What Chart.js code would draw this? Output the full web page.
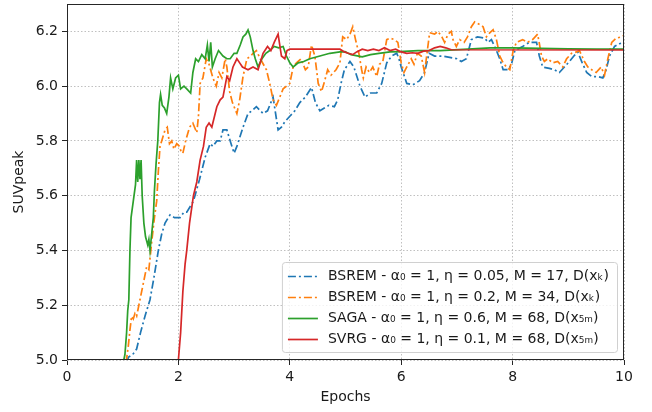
<!DOCTYPE html>
<html>
<head>
<meta charset="utf-8">
<script src="https://cdn.jsdelivr.net/npm/chart.js@4.4.0/dist/chart.umd.min.js"></script>
<style>
  body { margin: 0; background: #fff; }
  #wrap { width: 652px; height: 412px; }
</style>
</head>
<body>
<div id="wrap"><canvas id="suvChart" width="652" height="412"></canvas></div>
<script>
// SUVpeak against epochs for each reconstruction run
var seriesLabels = [
    "BSREM - α₀ = 1, η = 0.05, M = 17, D(xₖ)",
    "BSREM - α₀ = 1, η = 0.2, M = 34, D(xₖ)",
    "SAGA - α₀ = 1, η = 0.6, M = 68, D(x₅ₘ)",
    "SVRG - α₀ = 1, η = 0.1, M = 68, D(x₅ₘ)"
];

var xTicks = [0, 2, 4, 6, 8, 10];
var yTicks = [5.0, 5.2, 5.4, 5.6, 5.8, 6.0, 6.2];

var bsrem17Epochs = [1.08, 1.10, 1.18, 1.25, 1.32, 1.40, 1.49, 1.56, 1.64, 1.70, 1.76, 1.85, 1.93, 2.03, 2.10, 2.15, 2.27, 2.38, 2.48, 2.57, 2.62, 2.69, 2.75, 2.80, 2.87, 2.93, 3.00, 3.05, 3.16, 3.25, 3.32, 3.40, 3.52, 3.60, 3.70, 3.79, 3.85, 3.91, 4.00, 4.09, 4.18, 4.28, 4.39, 4.46, 4.54, 4.62, 4.70, 4.80, 4.86, 4.92, 4.98, 5.08, 5.15, 5.26, 5.35, 5.45, 5.56, 5.65, 5.74, 5.83, 5.92, 5.96, 6.00, 6.10, 6.21, 6.33, 6.42, 6.50, 6.60, 6.74, 6.87, 7.00, 7.08, 7.17, 7.26, 7.37, 7.50, 7.56, 7.62, 7.71, 7.77, 7.83, 7.92, 7.98, 8.04, 8.18, 8.30, 8.43, 8.48, 8.54, 8.66, 8.75, 8.84, 8.93, 9.02, 9.10, 9.17, 9.25, 9.33, 9.42, 9.53, 9.62, 9.68, 9.74, 9.83, 9.92, 10.0];
var bsrem17Suv = [4.99, 5.01, 5.02, 5.04, 5.10, 5.16, 5.22, 5.30, 5.40, 5.46, 5.50, 5.53, 5.52, 5.52, 5.54, 5.54, 5.58, 5.66, 5.74, 5.79, 5.78, 5.80, 5.80, 5.84, 5.84, 5.80, 5.755, 5.78, 5.85, 5.90, 5.91, 5.925, 5.90, 5.91, 5.96, 5.84, 5.85, 5.87, 5.89, 5.91, 5.94, 5.96, 5.995, 5.94, 5.91, 5.92, 5.93, 5.925, 5.95, 6.01, 6.06, 6.09, 6.07, 6.00, 5.96, 5.975, 5.975, 6.01, 6.085, 6.11, 6.12, 6.10, 6.07, 6.01, 6.005, 6.02, 6.05, 6.12, 6.11, 6.11, 6.105, 6.10, 6.09, 6.10, 6.17, 6.18, 6.175, 6.16, 6.17, 6.13, 6.10, 6.06, 6.06, 6.08, 6.13, 6.145, 6.16, 6.16, 6.11, 6.07, 6.065, 6.06, 6.05, 6.07, 6.09, 6.11, 6.125, 6.085, 6.05, 6.035, 6.035, 6.03, 6.06, 6.11, 6.145, 6.155, 6.16];

var bsrem34Epochs = [1.06, 1.10, 1.13, 1.16, 1.19, 1.22, 1.25, 1.31, 1.36, 1.43, 1.47, 1.52, 1.57, 1.61, 1.64, 1.67, 1.70, 1.73, 1.76, 1.80, 1.84, 1.88, 1.92, 1.97, 2.02, 2.05, 2.08, 2.13, 2.20, 2.26, 2.33, 2.36, 2.39, 2.44, 2.50, 2.55, 2.62, 2.68, 2.73, 2.78, 2.84, 2.87, 2.92, 2.97, 3.05, 3.10, 3.16, 3.23, 3.30, 3.34, 3.40, 3.47, 3.58, 3.64, 3.70, 3.76, 3.82, 3.88, 4.00, 4.06, 4.12, 4.20, 4.28, 4.33, 4.39, 4.45, 4.51, 4.57, 4.62, 4.68, 4.74, 4.83, 4.90, 4.95, 5.02, 5.08, 5.13, 5.18, 5.24, 5.29, 5.32, 5.37, 5.43, 5.49, 5.56, 5.61, 5.67, 5.74, 5.80, 5.88, 5.94, 6.00, 6.05, 6.10, 6.18, 6.23, 6.29, 6.36, 6.42, 6.51, 6.60, 6.66, 6.73, 6.78, 6.84, 6.90, 6.93, 6.99, 7.05, 7.13, 7.19, 7.26, 7.32, 7.41, 7.47, 7.53, 7.59, 7.65, 7.71, 7.77, 7.83, 7.89, 7.95, 8.01, 8.07, 8.18, 8.27, 8.36, 8.45, 8.52, 8.57, 8.63, 8.72, 8.81, 8.90, 8.97, 9.06, 9.15, 9.20, 9.29, 9.35, 9.42, 9.50, 9.59, 9.65, 9.71, 9.78, 9.86, 9.95, 10.0];
var bsrem34Suv = [4.99, 5.05, 5.11, 5.16, 5.15, 5.17, 5.16, 5.22, 5.27, 5.34, 5.33, 5.43, 5.52, 5.58, 5.69, 5.78, 5.80, 5.82, 5.84, 5.85, 5.79, 5.80, 5.77, 5.79, 5.78, 5.76, 5.755, 5.80, 5.85, 5.865, 5.83, 5.89, 6.01, 6.03, 6.10, 6.08, 6.03, 6.00, 6.05, 6.03, 6.10, 6.07, 5.98, 5.94, 5.90, 5.95, 6.035, 6.10, 6.11, 6.12, 6.13, 6.10, 6.06, 6.01, 5.95, 5.93, 5.96, 5.99, 6.01, 6.07, 6.085, 6.10, 6.06, 6.07, 6.15, 6.11, 6.01, 5.98, 6.015, 6.06, 6.04, 6.06, 6.085, 6.18, 6.17, 6.19, 6.217, 6.17, 6.12, 6.06, 6.03, 6.07, 6.05, 6.07, 6.035, 6.08, 6.09, 6.17, 6.175, 6.17, 6.16, 6.085, 6.05, 6.07, 6.10, 6.08, 6.12, 6.11, 6.05, 6.195, 6.19, 6.20, 6.18, 6.16, 6.19, 6.20, 6.17, 6.145, 6.17, 6.16, 6.18, 6.217, 6.235, 6.225, 6.217, 6.18, 6.195, 6.206, 6.17, 6.11, 6.085, 6.07, 6.06, 6.13, 6.16, 6.17, 6.16, 6.17, 6.19, 6.11, 6.09, 6.10, 6.085, 6.09, 6.07, 6.10, 6.12, 6.125, 6.13, 6.09, 6.07, 6.06, 6.05, 6.07, 6.04, 6.10, 6.16, 6.175, 6.18, 6.185];

var sagaEpochs = [1.02, 1.04, 1.07, 1.09, 1.11, 1.13, 1.15, 1.19, 1.23, 1.25, 1.27, 1.29, 1.31, 1.33, 1.35, 1.38, 1.41, 1.45, 1.47, 1.49, 1.52, 1.55, 1.57, 1.60, 1.63, 1.66, 1.68, 1.71, 1.75, 1.79, 1.83, 1.86, 1.90, 1.95, 2.00, 2.04, 2.10, 2.15, 2.22, 2.26, 2.31, 2.36, 2.42, 2.48, 2.52, 2.55, 2.58, 2.61, 2.66, 2.72, 2.80, 2.87, 2.93, 3.00, 3.05, 3.11, 3.16, 3.21, 3.25, 3.29, 3.34, 3.38, 3.43, 3.50, 3.57, 3.64, 3.72, 3.80, 3.88, 3.94, 4.00, 4.06, 4.15, 4.25, 4.36, 4.54, 4.72, 4.90, 4.99, 5.10, 5.30, 5.45, 5.60, 5.80, 5.97, 6.30, 6.70, 7.20, 7.60, 8.00, 8.50, 9.00, 9.50, 10.0];
var sagaSuv = [5.00, 5.02, 5.10, 5.18, 5.22, 5.40, 5.52, 5.58, 5.64, 5.73, 5.65, 5.73, 5.66, 5.73, 5.60, 5.50, 5.45, 5.42, 5.44, 5.40, 5.46, 5.52, 5.62, 5.72, 5.80, 5.94, 5.97, 5.93, 5.92, 5.90, 5.96, 6.03, 5.99, 6.03, 6.04, 5.99, 6.00, 5.99, 5.975, 6.05, 6.10, 6.09, 6.115, 6.10, 6.15, 6.09, 6.16, 6.07, 6.10, 6.13, 6.11, 6.10, 6.10, 6.12, 6.12, 6.15, 6.18, 6.19, 6.205, 6.18, 6.13, 6.10, 6.07, 6.10, 6.12, 6.13, 6.145, 6.14, 6.145, 6.11, 6.085, 6.07, 6.085, 6.09, 6.10, 6.11, 6.12, 6.125, 6.126, 6.115, 6.107, 6.115, 6.12, 6.125, 6.126, 6.13, 6.13, 6.135, 6.14, 6.14, 6.138, 6.136, 6.135, 6.135];

var svrgEpochs = [2.00, 2.04, 2.08, 2.12, 2.15, 2.20, 2.27, 2.33, 2.39, 2.45, 2.50, 2.55, 2.60, 2.69, 2.75, 2.80, 2.87, 2.92, 2.98, 3.05, 3.10, 3.15, 3.25, 3.34, 3.43, 3.52, 3.60, 3.66, 3.72, 3.79, 3.85, 3.91, 3.95, 4.00, 4.90, 4.98, 5.05, 5.13, 5.20, 5.30, 5.40, 5.50, 5.60, 5.70, 5.80, 5.90, 6.00, 6.10, 6.20, 6.30, 6.40, 6.50, 6.60, 6.70, 6.80, 6.90, 10.0];
var svrgSuv = [5.00, 5.10, 5.25, 5.35, 5.40, 5.50, 5.60, 5.65, 5.73, 5.78, 5.85, 5.865, 5.85, 5.925, 5.95, 5.96, 6.035, 6.02, 6.07, 6.10, 6.085, 6.07, 6.06, 6.07, 6.06, 6.12, 6.145, 6.13, 6.16, 6.19, 6.11, 6.10, 6.13, 6.135, 6.135, 6.125, 6.12, 6.115, 6.125, 6.135, 6.13, 6.135, 6.13, 6.14, 6.13, 6.135, 6.125, 6.12, 6.122, 6.12, 6.128, 6.13, 6.14, 6.145, 6.14, 6.133, 6.132];

function toPoints(xs, ys) {
    return xs.map(function (x, i) { return { x: x, y: ys[i] }; });
}

var dashDot = [8, 3, 2, 3];

// matplotlib-like legend box inside the lower right of the plot
var boxLegend = {
    id: 'boxLegend',
    afterDraw: function (chart) {
        var ctx = chart.ctx;
        var area = chart.chartArea;
        ctx.save();
        ctx.font = '14px "DejaVu Sans"';
        var maxW = 0;
        chart.data.datasets.forEach(function (ds) {
            maxW = Math.max(maxW, ctx.measureText(ds.label).width);
        });
        var rowH = 21;
        var w = 6 + 30 + 10 + maxW + 8;
        var h = rowH * chart.data.datasets.length + 6;
        var x0 = area.right - 7 - w;
        var y0 = area.bottom - 8 - h;

        ctx.beginPath();
        ctx.roundRect(x0 + 0.5, y0 + 0.5, w, h, 3);
        ctx.fillStyle = 'rgba(255,255,255,0.8)';
        ctx.fill();
        ctx.strokeStyle = '#d0d0d0';
        ctx.lineWidth = 1;
        ctx.stroke();

        chart.data.datasets.forEach(function (ds, i) {
            var cy = y0 + 3 + rowH * i + rowH / 2 + 1;
            ctx.beginPath();
            ctx.setLineDash(ds.borderDash || []);
            ctx.strokeStyle = ds.borderColor;
            ctx.lineWidth = ds.borderWidth;
            ctx.moveTo(x0 + 6, cy);
            ctx.lineTo(x0 + 36, cy);
            ctx.stroke();
            ctx.setLineDash([]);
            ctx.fillStyle = '#1a1a1a';
            ctx.textBaseline = 'middle';
            ctx.fillText(ds.label, x0 + 46, cy);
        });
        ctx.restore();
    }
};

// closed frame round the plot area
var frame = {
    id: 'frame',
    afterDatasetsDraw: function (chart) {
        var a = chart.chartArea;
        var ctx = chart.ctx;
        ctx.save();
        ctx.strokeStyle = '#262626';
        ctx.lineWidth = 1;
        ctx.strokeRect(Math.round(a.left) + 0.5, Math.round(a.top) + 0.5,
            Math.round(a.right - a.left) - 1, Math.round(a.bottom - a.top) - 1);
        ctx.restore();
    }
};

window.onload = function () {
    var colors = ['#1f77b4', '#ff7f0e', '#2ca02c', '#d62728'];
    var data = [
        toPoints(bsrem17Epochs, bsrem17Suv),
        toPoints(bsrem34Epochs, bsrem34Suv),
        toPoints(sagaEpochs, sagaSuv),
        toPoints(svrgEpochs, svrgSuv)
    ];
    var datasets = data.map(function (pts, i) {
        return {
            label: seriesLabels[i],
            data: pts,
            borderColor: colors[i],
            backgroundColor: colors[i],
            borderWidth: 1.7,
            borderDash: i < 2 ? dashDot : [],
            pointRadius: 0,
            tension: 0,
            fill: false,
            order: 4 - i
        };
    });

    var tickFont = { family: 'DejaVu Sans', size: 14 };
    var ctx = document.getElementById('suvChart').getContext('2d');
    new Chart(ctx, {
        type: 'line',
        data: { datasets: datasets },
        options: {
            responsive: false,
            animation: false,
            layout: { padding: { top: 4, right: 28, bottom: 0, left: 0 } },
            plugins: { legend: { display: false }, tooltip: { enabled: false } },
            scales: {
                x: {
                    type: 'linear',
                    min: 0, max: 10,
                    afterBuildTicks: function (s) { s.ticks = xTicks.map(function (v) { return { value: v }; }); },
                    afterFit: function (s) { s.height = 52; s.paddingLeft = 0; s.paddingRight = 0; },
                    ticks: { font: tickFont, color: '#1a1a1a', padding: 4, maxRotation: 0,
                        callback: function (v) { return String(v); } },
                    grid: { color: '#b0b0b0', lineWidth: 0.8, tickLength: 5, tickColor: '#262626', tickWidth: 1 },
                    border: { display: false, dash: [1.5, 2] },
                    title: { display: true, text: 'Epochs', font: tickFont, color: '#1a1a1a', padding: { top: 0, bottom: 6 } }
                },
                y: {
                    type: 'linear',
                    min: 5.0, max: 6.3,
                    afterBuildTicks: function (s) { s.ticks = yTicks.map(function (v) { return { value: v }; }); },
                    afterFit: function (s) { s.width = 67; s.paddingTop = 0; s.paddingBottom = 0; },
                    ticks: { font: tickFont, color: '#1a1a1a', padding: 4,
                        callback: function (v) { return v.toFixed(1); } },
                    grid: { color: '#b0b0b0', lineWidth: 0.8, tickLength: 5, tickColor: '#262626', tickWidth: 1 },
                    border: { display: false, dash: [1.5, 2] },
                    title: { display: true, text: 'SUVpeak', font: tickFont, color: '#1a1a1a', padding: { top: 11, bottom: 0 } }
                }
            }
        },
        plugins: [frame, boxLegend]
    });
};
</script>
</body>
</html>
